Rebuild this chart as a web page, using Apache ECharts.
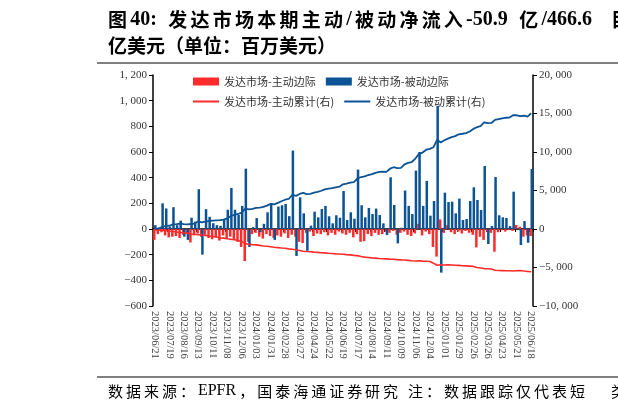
<!DOCTYPE html>
<html>
<head>
<meta charset="utf-8">
<script src="https://cdn.jsdelivr.net/npm/echarts@6/dist/echarts.min.js"></script>
<style>
  html, body { margin: 0; padding: 0; background: #fff; }
  #chart { width: 618px; height: 413px; }
</style>
</head>
<body>
<div id="chart"></div>
<script>
// weekly dates, 2023/06/21 .. 2025/06/18
var dates = [];
var d0 = Date.UTC(2023, 5, 21);
for (var k = 0; k < 105; k++) {
  var dt = new Date(d0 + k * 7 * 86400000);
  var mm = ('0' + (dt.getUTCMonth() + 1)).slice(-2);
  var dd = ('0' + dt.getUTCDate()).slice(-2);
  dates.push(dt.getUTCFullYear() + '/' + mm + '/' + dd);
}

// 发达市场-主动边际 (左轴, 百万美元)
var activeWeekly = [
  -85, -40, -25, -50, -65, -60, -55, -70, -45, -40,
  -105, -50, -35, -60, -45, -70, -80, -65, -90, -50,
  -75, -60, -85, -100, -140, -250, -100, -40, -30, -60,
  -75, -40, -55, -70, -50, -60, -35, -70, -45, -60,
  -100, -110, -30, -20, -55, -35, -40, -25, -50, -30,
  -45, -20, -35, -45, -30, -65, -40, -100, -95, -40,
  -55, -30, -45, -40, -20, -30, -15, -45, -30, -20,
  -45, -55, -35, 40, -50, -20, -40, -140, -215, 75,
  -30, 30, -25, -40, -20, -35, -15, -30, -45, -143,
  -60, -85, -20, -30, -177, -25, -10, -20, -5, -15,
  31, 18, -60, -50, -55
];

// 发达市场-被动边际 (左轴)
var passiveWeekly = [
  30, 10, 200, 160, 20, 170, 30, 65, -60, -85,
  88, 57, 310, -200, 155, 95, 45, 30, 25, 70,
  150, 320, 150, 110, 180, 470, -140, 15, 85, -25,
  40, 130, 200, -85, 175, 185, 195, 100, 611, -210,
  247, 122, -170, 26, 135, 91, 156, 180, 99, 44,
  107, 88, 296, 70, 130, 80, 463, 185, 91, 164,
  117, 159, 109, 44, -47, 403, 187, -112, 10, 300,
  180, 117, 455, 600, 180, 375, 104, 218, 960, -340,
  283, 210, 213, 122, 237, 70, 78, 218, 325, 226,
  148, 491, -117, 23, 405, 107, 91, 86, 23, 291,
  5, -125, 62, -107, 468
];

// 发达市场-主动累计(右)
var activeCum = [
  -85, -125, -150, -200, -265, -325, -380, -450, -495, -535,
  -640, -690, -725, -785, -830, -900, -980, -1045, -1135, -1185,
  -1260, -1320, -1405, -1505, -1645, -1895, -1995, -2035, -2065, -2125,
  -2200, -2240, -2295, -2365, -2415, -2475, -2510, -2580, -2625, -2685,
  -2785, -2895, -2925, -2945, -3000, -3035, -3075, -3100, -3150, -3180,
  -3225, -3245, -3280, -3325, -3355, -3420, -3460, -3560, -3655, -3695,
  -3750, -3780, -3825, -3865, -3885, -3915, -3930, -3975, -4005, -4025,
  -4070, -4125, -4160, -4120, -4170, -4190, -4230, -4450, -4700, -4640,
  -4670, -4640, -4670, -4710, -4730, -4770, -4790, -4820, -4860, -5000,
  -5060, -5140, -5160, -5190, -5360, -5390, -5400, -5420, -5430, -5450,
  -5420, -5400, -5460, -5510, -5560
];

// 发达市场-被动累计(右)
var passiveCum = [
  30, 40, 240, 400, 420, 590, 620, 685, 640, 600,
  650, 700, 1000, 850, 950, 1040, 1090, 1120, 1150, 1220,
  1370, 1690, 1840, 1950, 2130, 2650, 2560, 2620, 2750, 2780,
  2870, 3040, 3270, 3200, 3400, 3600, 3800, 3900, 4450, 4300,
  4550, 4680, 4540, 4570, 4720, 4810, 4970, 5150, 5250, 5300,
  5410, 5500, 5800, 5880, 6010, 6100, 6560, 6750, 6840, 7010,
  7130, 7300, 7410, 7460, 7420, 7830, 8020, 7910, 7930, 8400,
  8580, 8700, 9150, 9750, 9930, 10300, 10400, 10620, 11580, 11240,
  11520, 11730, 11940, 12060, 12300, 12370, 12450, 12670, 13000, 13220,
  13370, 13860, 13740, 13770, 14170, 14280, 14370, 14450, 14480, 14770,
  14770, 14650, 14710, 14600, 15030
];

var names = ['发达市场-主动边际', '发达市场-被动边际', '发达市场-主动累计(右)', '发达市场-被动累计(右)'];
var RED = '#ff2b2b';
var BLUE = '#0b5394';

function fmt(v) {
  var s = Math.abs(v).toString().replace(/\B(?=(\d{3})+(?!\d))/g, ', ');
  return (v < 0 ? '\u2212' : '') + s;
}

// lay out a text line token by token (CJK chars single, latin runs grouped)
// so it can be stretched like the justified source text
var measureCtx = document.createElement('canvas').getContext('2d');
function spacedLine(str, x0, y, cjkFont, latFont, endX) {
  var tokens = [];
  for (var i = 0; i < str.length; i++) {
    var ch = str[i];
    var isCjk = ch.charCodeAt(0) > 0x2e80;
    var last = tokens[tokens.length - 1];
    if (!isCjk && last && !last.cjk && ch !== ' ' && last.s !== ' ') last.s += ch;
    else tokens.push({ s: ch, cjk: isCjk });
  }
  var total = 0;
  tokens.forEach(function (t) {
    t.font = t.cjk ? cjkFont : latFont;
    measureCtx.font = t.font;
    t.w = measureCtx.measureText(t.s).width;
    total += t.w;
  });
  var gap = endX ? (endX - x0 - total) / (tokens.length - 1) : 0;
  var out = [];
  var x = x0;
  tokens.forEach(function (t) {
    if (t.s !== ' ') {
      out.push({ type: 'text', x: x, y: y, silent: true,
        style: { text: t.s, font: t.font, fill: '#000', verticalAlign: 'middle', textVerticalAlign: 'middle' } });
    }
    x += t.w + gap;
  });
  return out;
}

var serif = '"Liberation Serif", "Noto Sans CJK SC", serif';
var tCjk = 'bold 19px "Noto Sans CJK SC"';
var tLat = 'bold 20px "Liberation Serif"';
var fCjk = '15px "Noto Sans CJK SC"';
var fLat = '16px "Liberation Serif"';

var graphics = []
  .concat(spacedLine('图40: 发达市场本期主动/被动净流入-50.9 亿/466.6', 108, 20, tCjk, tLat, 592))
  .concat(spacedLine('亿美元（单位：百万美元）', 108, 46, tCjk, tLat, 0))
  .concat(spacedLine('数据来源：EPFR，国泰海通证券研究 注：数据跟踪仅代表短', 108, 391, fCjk, fLat, 585));
graphics.push({ type: 'text', x: 611, y: 20, style: { text: '目', font: tCjk, fill: '#000', verticalAlign: 'middle', textVerticalAlign: 'middle' } });
graphics.push({ type: 'text', x: 611, y: 391, style: { text: '类', font: fCjk, fill: '#000', verticalAlign: 'middle', textVerticalAlign: 'middle' } });
graphics.push({ type: 'line', shape: { x1: 97, y1: 63, x2: 618, y2: 63 }, style: { stroke: '#555', lineWidth: 1.5 } });
graphics.push({ type: 'line', shape: { x1: 97, y1: 377, x2: 618, y2: 377 }, style: { stroke: '#555', lineWidth: 1.5 } });

var chart = echarts.init(document.getElementById('chart'));

var axisLabelStyle = { color: '#333', fontFamily: serif, fontSize: 11 };
var legendText = { color: '#333', fontSize: 11, fontFamily: '"Noto Sans CJK SC"', width: 114 };

var option = {
  animation: false,
  grid: { left: 153, right: 85, top: 75, bottom: 107 },
  legend: [
    { top: 71, left: 188, itemWidth: 26, itemHeight: 8, itemGap: 10, selectedMode: false, icon: 'rect',
      textStyle: legendText, data: [names[0], names[1]] },
    { top: 91, left: 188, itemWidth: 26, itemHeight: 2, itemGap: 10, selectedMode: false, icon: 'rect',
      textStyle: legendText, data: [names[2], names[3]] }
  ],
  xAxis: [
    {
      type: 'category', data: dates, position: 'bottom',
      axisLine: { show: false, onZero: false },
      axisTick: { show: false },
      axisLabel: { interval: 3, rotate: -90, margin: 5, color: '#444', fontFamily: serif, fontSize: 10.5 }
    },
    {
      type: 'category', data: dates, position: 'bottom',
      axisLine: { show: true, onZero: true, onZeroAxisIndex: 0, lineStyle: { color: '#000', width: 1.5 } },
      axisTick: { show: true, interval: 3, length: 3, lineStyle: { color: '#000' } },
      axisLabel: { show: false }
    }
  ],
  yAxis: [
    {
      type: 'value', min: -600, max: 1200, interval: 200, position: 'left',
      axisLine: { show: true, lineStyle: { color: '#000', width: 1.5 } },
      axisTick: { show: true, length: 4, lineStyle: { color: '#000' } },
      splitLine: { show: false },
      axisLabel: Object.assign({ margin: 6, formatter: fmt }, axisLabelStyle)
    },
    {
      type: 'value', min: -10000, max: 20000, interval: 5000, position: 'right',
      axisLine: { show: true, lineStyle: { color: '#000', width: 1.5 } },
      axisTick: { show: true, length: 4, lineStyle: { color: '#000' } },
      splitLine: { show: false },
      axisLabel: Object.assign({ margin: 6, formatter: fmt }, axisLabelStyle)
    }
  ],
  series: [
    {
      name: names[0], type: 'bar', xAxisIndex: 0, yAxisIndex: 0, data: activeWeekly,
      itemStyle: { color: RED }, barWidth: 2.5, barGap: '-55%'
    },
    {
      name: names[1], type: 'bar', xAxisIndex: 0, yAxisIndex: 0, data: passiveWeekly,
      itemStyle: { color: BLUE }, barWidth: 2.5, barGap: '-55%'
    },
    {
      name: names[2], type: 'line', xAxisIndex: 0, yAxisIndex: 1, data: activeCum,
      symbol: 'none', lineStyle: { color: RED, width: 1.6 }, itemStyle: { color: RED }
    },
    {
      name: names[3], type: 'line', xAxisIndex: 0, yAxisIndex: 1, data: passiveCum,
      symbol: 'none', lineStyle: { color: BLUE, width: 1.8 }, itemStyle: { color: BLUE }
    }
  ],
  graphic: graphics
};

chart.setOption(option);
</script>
</body>
</html>
